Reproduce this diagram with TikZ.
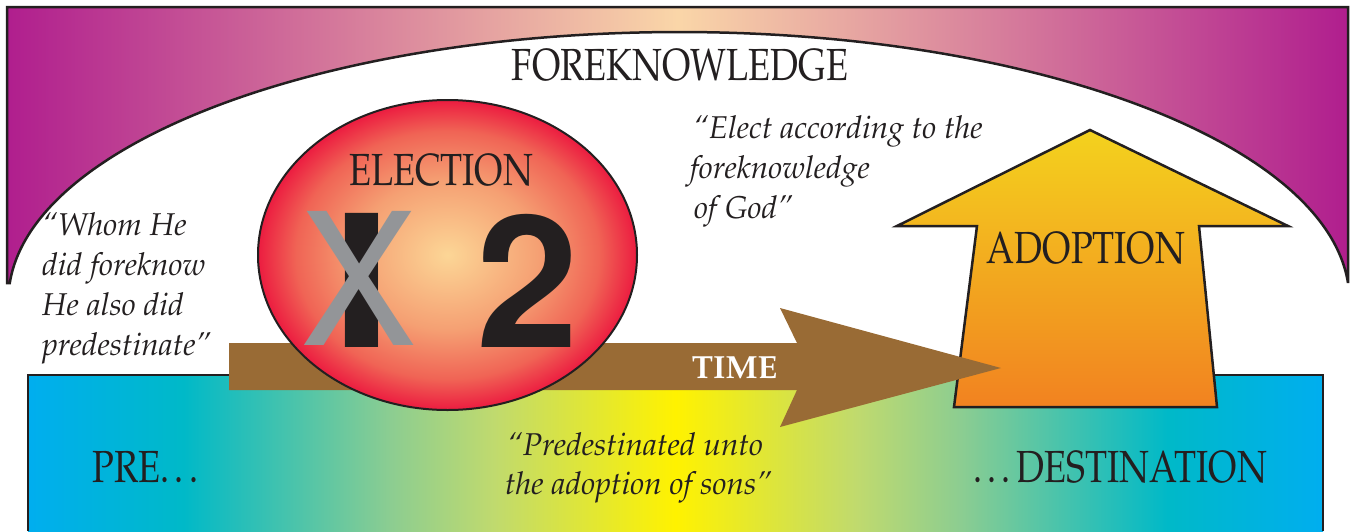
\documentclass[tikz,border=0pt]{standalone}
\usepackage[T1]{fontenc}
\usepackage{mathpazo}
\usepackage{tikz}

\definecolor{bandpurple}{RGB}{176,30,142}
\definecolor{bandpeach}{RGB}{250,214,168}
\definecolor{skycyan}{RGB}{0,174,239}
\definecolor{seateal}{RGB}{0,185,200}
\definecolor{mintgreen}{RGB}{140,205,145}
\definecolor{limegreen}{RGB}{192,218,110}
\definecolor{sunyellow}{RGB}{255,242,0}
\definecolor{glowcore}{RGB}{252,214,150}
\definecolor{glowmid}{RGB}{245,160,115}
\definecolor{glowouter}{RGB}{240,100,85}
\definecolor{glowedge}{RGB}{236,28,64}
\definecolor{timebrown}{RGB}{153,107,53}
\definecolor{crossgray}{RGB}{147,149,152}
\definecolor{adoptyellow}{RGB}{243,210,30}
\definecolor{adoptorange}{RGB}{242,130,32}
\definecolor{inkblack}{RGB}{35,31,32}

\pgfdeclarehorizontalshading{rainbowband}{100bp}{color(0bp)=(skycyan); color(25bp)=(skycyan); color(31bp)=(seateal); color(39bp)=(mintgreen); color(43bp)=(limegreen); color(50bp)=(sunyellow); color(57bp)=(limegreen); color(61bp)=(mintgreen); color(69bp)=(seateal); color(75bp)=(skycyan); color(100bp)=(skycyan)}
\pgfdeclareradialshading{electionglow}{\pgfpoint{0bp}{0bp}}{color(0bp)=(glowcore); color(12bp)=(glowmid); color(20bp)=(glowouter); color(25bp)=(glowedge); color(50bp)=(glowedge)}

\newcommand{\narrowcaps}[1]{\scalebox{0.8}[1]{#1}}

\tikzset{
  outline/.style={draw=inkblack, line width=2.5pt},
  capslabel/.style={text=inkblack, inner sep=0pt, anchor=base, font=\fontsize{45}{54}\selectfont},
  quoteline/.style={text=inkblack, inner sep=0pt, anchor=base west, font=\fontsize{31.5}{40}\selectfont\itshape},
  bigglyph/.style={inner sep=0pt, anchor=base, font=\fontfamily{phv}\fontsize{184}{184}\selectfont}
}

\begin{document}
\begin{tikzpicture}[x=1pt,y=-1pt]
  \useasboundingbox (0,0) rectangle (1353,531);

  % Foreknowledge band
  \draw[outline, left color=bandpurple, right color=bandpurple, middle color=bandpeach]
    (7,7) -- (1348,7) -- (1348,283)
    arc[start angle=3.64, end angle=176.36, x radius=670.5pt, y radius=268pt]
    -- (7,283) -- cycle;
  \node[capslabel] (foreknowledge) at (680,80) {\narrowcaps{FOREKNOWLEDGE}};

  % Pre...destination band
  \shade[shading=rainbowband] (28,375) rectangle (1323,531);
  \draw[outline] (28,531) -- (28,375) -- (1323,375) -- (1323,531);
  \node[capslabel] (pre) at (148,482) {\narrowcaps{PRE\ldots}};
  \node[capslabel] (destination) at (1120,482) {\narrowcaps{\ldots DESTINATION}};

  % Adoption arrow
  \draw[outline, top color=adoptyellow, bottom color=adoptorange]
    (1090,130) -- (1288,226) -- (1199,226) -- (1217,407) -- (954,407) -- (977,226) -- (897,226) -- cycle;
  \node[capslabel] (adoption) at (1086,263) {\narrowcaps{ADOPTION}};

  % Time arrow
  \fill[timebrown] (229,343) -- (797,343) -- (780,308) -- (1001,368) -- (780,427) -- (797,390) -- (229,390) -- cycle;
  \node[anchor=base, inner sep=0pt, text=white, font=\fontsize{32}{32}\selectfont\bfseries] (time) at (734.5,378) {TIME};

  % Election circle
  \shadedraw[shading=electionglow, draw=inkblack, line width=2pt] (447.5,255) ellipse [x radius=189.5pt, y radius=155pt];
  \node[capslabel] (election) at (441,185) {\narrowcaps{ELECTION}};
  \node[bigglyph, text=inkblack] (oneglyph) at (362,347) {\bfseries\scalebox{1.2}[1]{I}};
  \node[bigglyph, text=crossgray] (crossglyph) at (359,345) {\scalebox{0.95}[1]{X}};
  \node[bigglyph, text=inkblack] (twoglyph) at (528,347) {\bfseries 2};

  % Quotations
  \node[quoteline] (whomA) at (42,235) {``Whom He};
  \node[quoteline] (whomB) at (42,275) {did foreknow};
  \node[quoteline] (whomC) at (42,315) {He also did};
  \node[quoteline] (whomD) at (42,355) {predestinate''};

  \node[quoteline] (electA) at (693,138) {``Elect according to the};
  \node[quoteline] (electB) at (690,178) {foreknowledge};
  \node[quoteline] (electC) at (694,218) {of God''};

  \node[quoteline] (sonsA) at (507,455) {``Predestinated unto};
  \node[quoteline] (sonsB) at (505,494) {the adoption of sons''};
\end{tikzpicture}
\end{document}
